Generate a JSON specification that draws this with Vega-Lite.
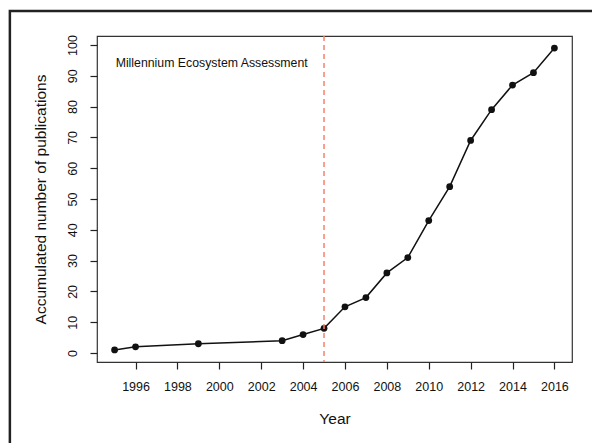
{
  "$schema": "https://vega.github.io/schema/vega-lite/v6.json",
  "autosize": "none",
  "width": 475,
  "height": 326,
  "padding": {"left": 97, "top": 36, "right": 20, "bottom": 81},
  "background": "white",
  "config": {
    "font": "Liberation Sans",
    "view": {"stroke": "#333333", "strokeWidth": 1.2},
    "axis": {
      "domain": false,
      "grid": false,
      "tickColor": "#222222",
      "tickSize": 7,
      "tickWidth": 1.2,
      "labelColor": "#111111",
      "labelFontSize": 12.5,
      "labelFont": "Liberation Sans",
      "labelOverlap": false,
      "titleFont": "Liberation Sans",
      "titleFontSize": 15.5,
      "titleFontWeight": "normal",
      "titleColor": "#111111"
    }
  },
  "datasets": {
    "pubs": [
      {"year": 1995, "count": 1},
      {"year": 1996, "count": 2},
      {"year": 1999, "count": 3},
      {"year": 2003, "count": 4},
      {"year": 2004, "count": 6},
      {"year": 2005, "count": 8},
      {"year": 2006, "count": 15},
      {"year": 2007, "count": 18},
      {"year": 2008, "count": 26},
      {"year": 2009, "count": 31},
      {"year": 2010, "count": 43},
      {"year": 2011, "count": 54},
      {"year": 2012, "count": 69},
      {"year": 2013, "count": 79},
      {"year": 2014, "count": 87},
      {"year": 2015, "count": 91},
      {"year": 2016, "count": 99}
    ],
    "one": [{"label": "Millennium Ecosystem Assessment"}]
  },
  "encoding": {
    "x": {
      "type": "quantitative",
      "scale": {"domain": [1994.16, 2016.84], "nice": false, "zero": false},
      "axis": {
        "values": [1996, 1998, 2000, 2002, 2004, 2006, 2008, 2010, 2012, 2014, 2016],
        "tickCount": 11,
        "format": "d",
        "title": "Year",
        "labelPadding": 11,
        "labelFlush": false,
        "labelOverlap": false,
        "titleX": 237.5,
        "titleY": 56,
        "titleBaseline": "middle",
        "titleAlign": "center"
      }
    },
    "y": {
      "type": "quantitative",
      "scale": {"domain": [-2.92, 102.92], "nice": false, "zero": false},
      "axis": {
        "values": [0, 10, 20, 30, 40, 50, 60, 70, 80, 90, 100],
        "tickCount": 11,
        "title": "Accumulated number of publications",
        "labelAngle": 270,
        "labelAlign": "center",
        "labelBaseline": "bottom",
        "labelPadding": 11,
        "labelFlush": false,
        "labelOverlap": false,
        "labelSeparation": 0,
        "titleAngle": 270,
        "titleX": -57,
        "titleY": 163,
        "titleBaseline": "middle",
        "titleAlign": "center"
      }
    }
  },
  "layer": [
    {
      "data": {"name": "pubs"},
      "mark": {"type": "line", "color": "#111111", "strokeWidth": 1.5,
               "point": {"filled": true, "color": "#111111", "size": 46, "opacity": 1}},
      "encoding": {
        "x": {"field": "year"},
        "y": {"field": "count"}
      }
    },
    {
      "data": {"name": "one"},
      "mark": {"type": "rect", "fill": null, "filled": false, "stroke": "#222222", "strokeWidth": 2.5, "clip": false},
      "encoding": {
        "x": {"datum": 1990},
        "x2": {"datum": 2045},
        "y": {"datum": 111},
        "y2": {"datum": -60}
      }
    },
    {
      "data": {"name": "one"},
      "mark": {"type": "rule", "color": "#F4836B", "strokeDash": [5, 4], "strokeWidth": 1.5},
      "encoding": {
        "x": {"datum": 2005},
        "y": null
      }
    },
    {
      "data": {"name": "one"},
      "mark": {"type": "text", "align": "left", "baseline": "middle", "fontSize": 12.3, "color": "#111111", "font": "Liberation Sans"},
      "encoding": {
        "text": {"field": "label"},
        "x": {"datum": 1995.05},
        "y": {"datum": 94.2}
      }
    }
  ]
}
